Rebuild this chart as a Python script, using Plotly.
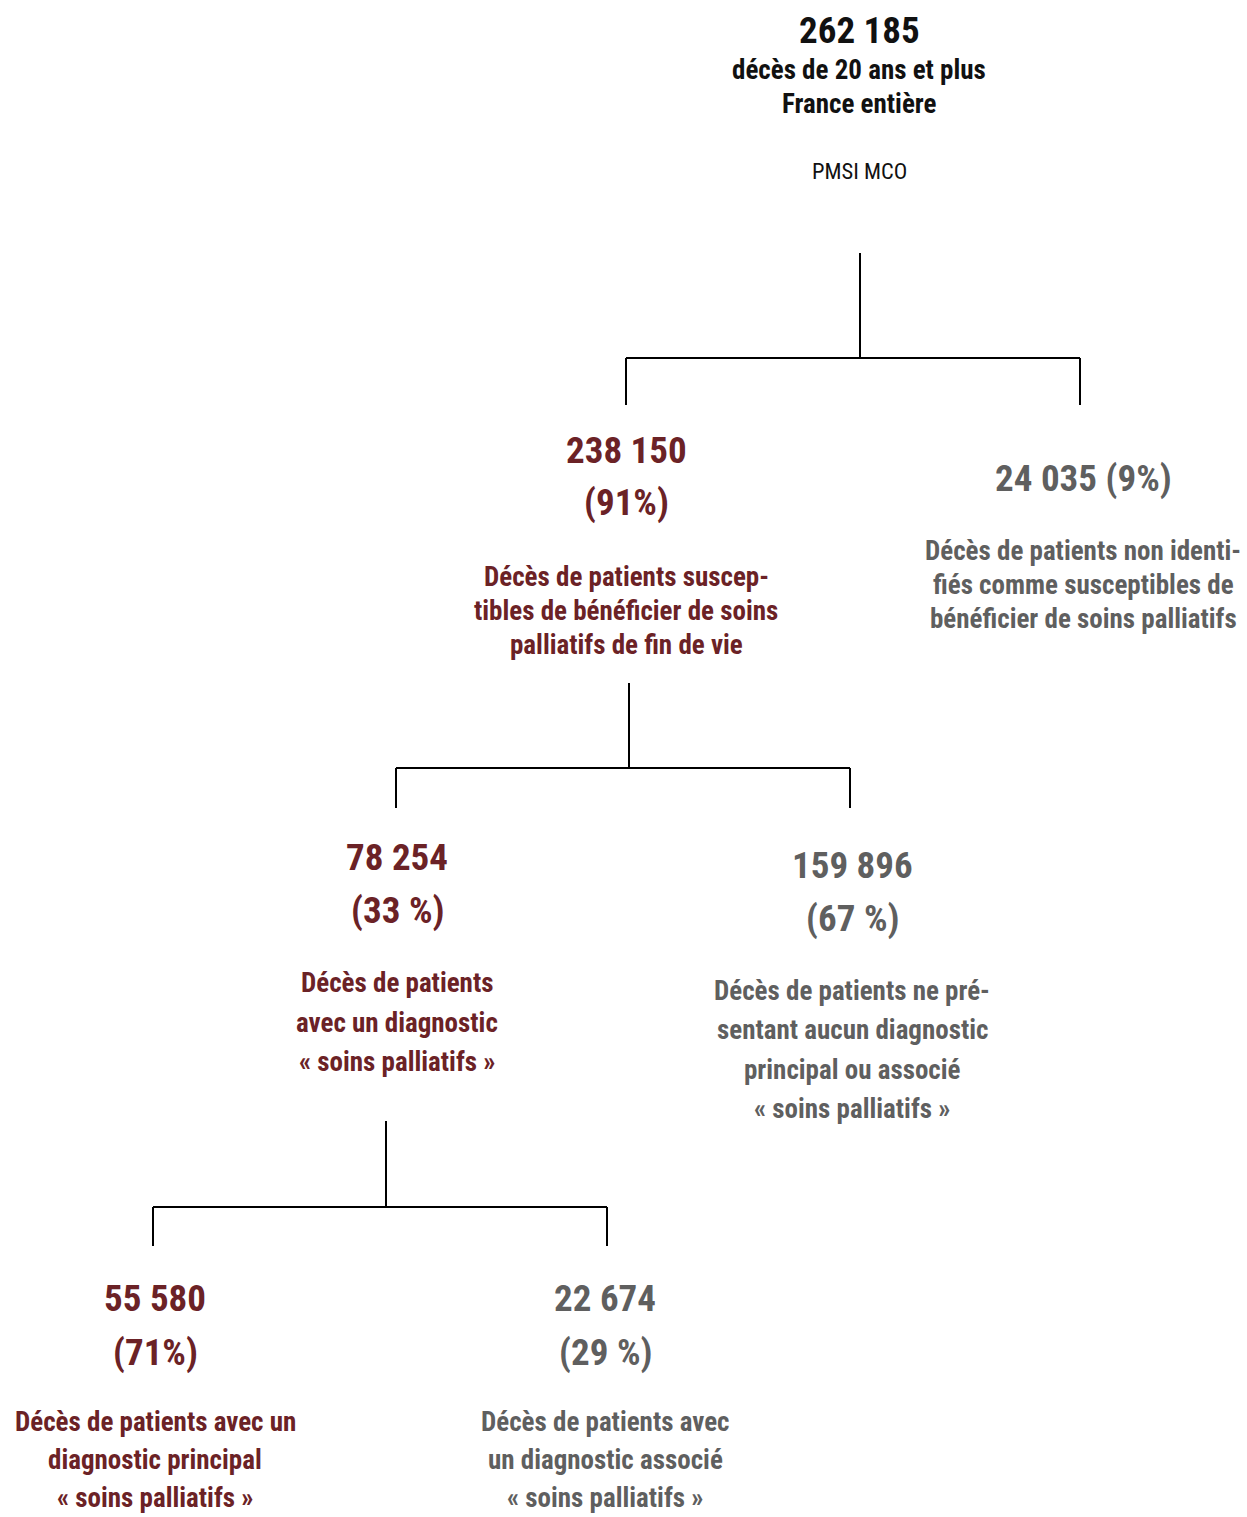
import plotly.graph_objects as go

W, H = 1247, 1517
DARK = "#6b2226"
GREY = "#5f5f5f"
BLACK = "#111111"
FONT = "Roboto Condensed, Roboto, sans-serif"

# ---- data ----
node_counts = ["262 185", "238 150", "24 035", "78 254", "159 896", "55 580", "22 674"]
node_pcts = ["", "(91%)", "(9%)", "(33 %)", "(67 %)", "(71%)", "(29 %)"]
node_desc = [
    ["décès de 20 ans et plus", "France entière"],
    ["Décès de patients suscep-", "tibles de bénéficier de soins", "palliatifs de fin de vie"],
    ["Décès de patients non identi-", "fiés comme susceptibles de", "bénéficier de soins palliatifs"],
    ["Décès de patients", "avec un diagnostic", "« soins palliatifs »"],
    ["Décès de patients ne pré-", "sentant aucun diagnostic", "principal ou associé", "« soins palliatifs »"],
    ["Décès de patients avec un", "diagnostic principal", "« soins palliatifs »"],
    ["Décès de patients avec", "un diagnostic associé", "« soins palliatifs »"],
]
source_label = "PMSI MCO"
# parent -> children
edges = [(0, [1, 2]), (1, [3, 4]), (3, [5, 6])]

# ---- layout (positions / styles) ----
node_x = [859, 626, 1083, 397, 852, 155, 605]
node_color = [BLACK, DARK, GREY, DARK, GREY, DARK, GREY]
count_y = [30, 450, 478, 857, 865, 1298, 1298]
pct_y = [None, 502, 478, 910, 918, 1352, 1352]
desc_y0 = [70, 577, 551, 983, 991, 1422, 1422]
desc_step = [34, 34, 34, 39.5, 39.3, 38, 38]
conn = [(253, 358, 405, 860), (683, 768, 808, 629), (1121, 1207, 1246, 386)]
stem_x = {1: 626, 2: 1080, 3: 396, 4: 850, 5: 153, 6: 607}

fig = go.Figure()

for (parent, kids), (ytop, ybar, ybot, sx) in zip(edges, conn):
    kx = [stem_x[k] for k in kids]
    lx = [sx, sx, None, kx[0], kx[1], None, kx[0], kx[0], None, kx[1], kx[1]]
    ly = [ytop, ybar, None, ybar, ybar, None, ybar, ybot, None, ybar, ybot]
    fig.add_trace(go.Scatter(x=lx, y=ly, mode="lines",
                             line=dict(color="black", width=2),
                             hoverinfo="skip", showlegend=False))

def add_text(x, y, s, size, color, bold=True):
    fig.add_annotation(x=x, y=y, text=(f"<b>{s}</b>" if bold else s),
                       showarrow=False, xanchor="center", yanchor="middle",
                       borderpad=0,
                       font=dict(family=FONT, size=size, color=color))

for i in range(len(node_counts)):
    c = node_color[i]
    if i == 2:
        add_text(node_x[i], count_y[i], f"{node_counts[i]} {node_pcts[i]}", 37, c)
    else:
        add_text(node_x[i], count_y[i], node_counts[i], 37, c)
        if node_pcts[i]:
            add_text(node_x[i], pct_y[i], node_pcts[i], 37, c)
    for j, line in enumerate(node_desc[i]):
        add_text(node_x[i], desc_y0[i] + j * desc_step[i], line, 27, c)

add_text(node_x[0], 171, source_label, 22.5, BLACK, bold=False)

fig.update_layout(
    width=W, height=H,
    margin=dict(l=0, r=0, t=0, b=0),
    paper_bgcolor="white", plot_bgcolor="white",
    xaxis=dict(range=[0, W], visible=False, fixedrange=True),
    yaxis=dict(range=[H, 0], visible=False, fixedrange=True),
    showlegend=False,
)
fig.write_html("out.html", config={"displayModeBar": False},
               post_script="document.body.style.margin='0';document.body.style.overflow='hidden';")
